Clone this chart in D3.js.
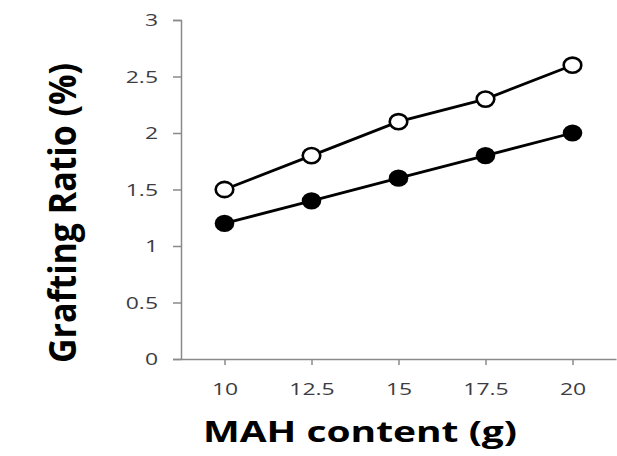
<!DOCTYPE html>
<html>
<head>
<meta charset="utf-8">
<script src="https://cdn.jsdelivr.net/npm/d3@7"></script>
<style>
  body { margin: 0; background: #fff; }
  svg { display: block; }
</style>
</head>
<body>
<svg id="chart"></svg>
<script>
// canvas
var width = 617,
    height = 456;

// data
var mahContent = [10, 12.5, 15, 17.5, 20];
var ratioOpen = [1.5, 1.8, 2.1, 2.3, 2.6];
var ratioFilled = [1.2, 1.4, 1.6, 1.8, 2.0];
var yTicks = [0, 0.5, 1, 1.5, 2, 2.5, 3];

// the source image is stretched sideways
var squash = 1.35;

var svg = d3.select("#chart")
    .attr("width", width)
    .attr("height", height);

var x = d3.scaleLinear().domain([8.75, 21.25]).range([181, 616]);
var y = d3.scaleLinear().domain([0, 3]).range([359, 20]);

var axisColor = "#8a8a8a",
    labelColor = "#3c3c44";

// y axis
var gy = svg.append("g")
    .attr("transform", "translate(181,0)")
    .call(d3.axisLeft(y).tickValues(yTicks).tickSize(8).tickPadding(0)
          .tickFormat(function(d) { return d; }));

// x axis
var gx = svg.append("g")
    .attr("transform", "translate(0,359)")
    .call(d3.axisBottom(x).tickValues(mahContent).tickSize(6).tickSizeOuter(0)
          .tickFormat(function(d) { return d; }));

[gx, gy].forEach(function(g) {
  g.select(".domain").attr("stroke", axisColor).attr("stroke-width", 1.5);
  g.selectAll(".tick line").attr("stroke", axisColor).attr("stroke-width", 1.5);
  g.selectAll(".tick text")
    .attr("fill", labelColor)
    .style("font-family", "'Open Sans', sans-serif")
    .style("font-size", "17px");
});

gy.selectAll(".tick text")
  .attr("x", -23 / squash)
  .attr("dy", "0.35em")
  .attr("transform", "scale(" + squash + ",1)");

gx.selectAll(".tick text")
  .attr("y", 30)
  .attr("dy", "0.35em")
  .attr("transform", "scale(" + squash + ",1)");

// series lines
var line = d3.line()
    .x(function(d, i) { return x(mahContent[i]); })
    .y(function(d) { return y(d); });

[ratioOpen, ratioFilled].forEach(function(series) {
  svg.append("path")
    .datum(series)
    .attr("d", line)
    .style("fill", "none")
    .style("stroke", "black")
    .style("stroke-width", "2.8px");
});

// markers
svg.selectAll(".open")
  .data(ratioOpen)
  .enter().append("ellipse")
    .attr("class", "open")
    .attr("cx", function(d, i) { return x(mahContent[i]); })
    .attr("cy", function(d) { return y(d); })
    .attr("rx", 8.8)
    .attr("ry", 7.6)
    .style("fill", "white")
    .style("stroke", "black")
    .style("stroke-width", "2.6px");

svg.selectAll(".filled")
  .data(ratioFilled)
  .enter().append("ellipse")
    .attr("class", "filled")
    .attr("cx", function(d, i) { return x(mahContent[i]); })
    .attr("cy", function(d) { return y(d); })
    .attr("rx", 9.8)
    .attr("ry", 8.6)
    .style("fill", "black");

// axis titles
svg.append("text")
  .attr("x", 360)
  .attr("y", 442)
  .attr("text-anchor", "middle")
  .attr("textLength", 314)
  .attr("lengthAdjust", "spacingAndGlyphs")
  .style("font-family", "'Open Sans', sans-serif")
  .style("font-weight", "bold")
  .style("font-size", "28px")
  .text("MAH content (g)");

svg.append("text")
  .attr("transform", "translate(76,213) rotate(-90) scale(1," + squash + ")")
  .attr("text-anchor", "middle")
  .attr("textLength", 300)
  .attr("lengthAdjust", "spacingAndGlyphs")
  .style("font-family", "'Open Sans', sans-serif")
  .style("font-weight", "bold")
  .style("font-size", "28px")
  .text("Grafting Ratio (%)");
</script>
</body>
</html>
